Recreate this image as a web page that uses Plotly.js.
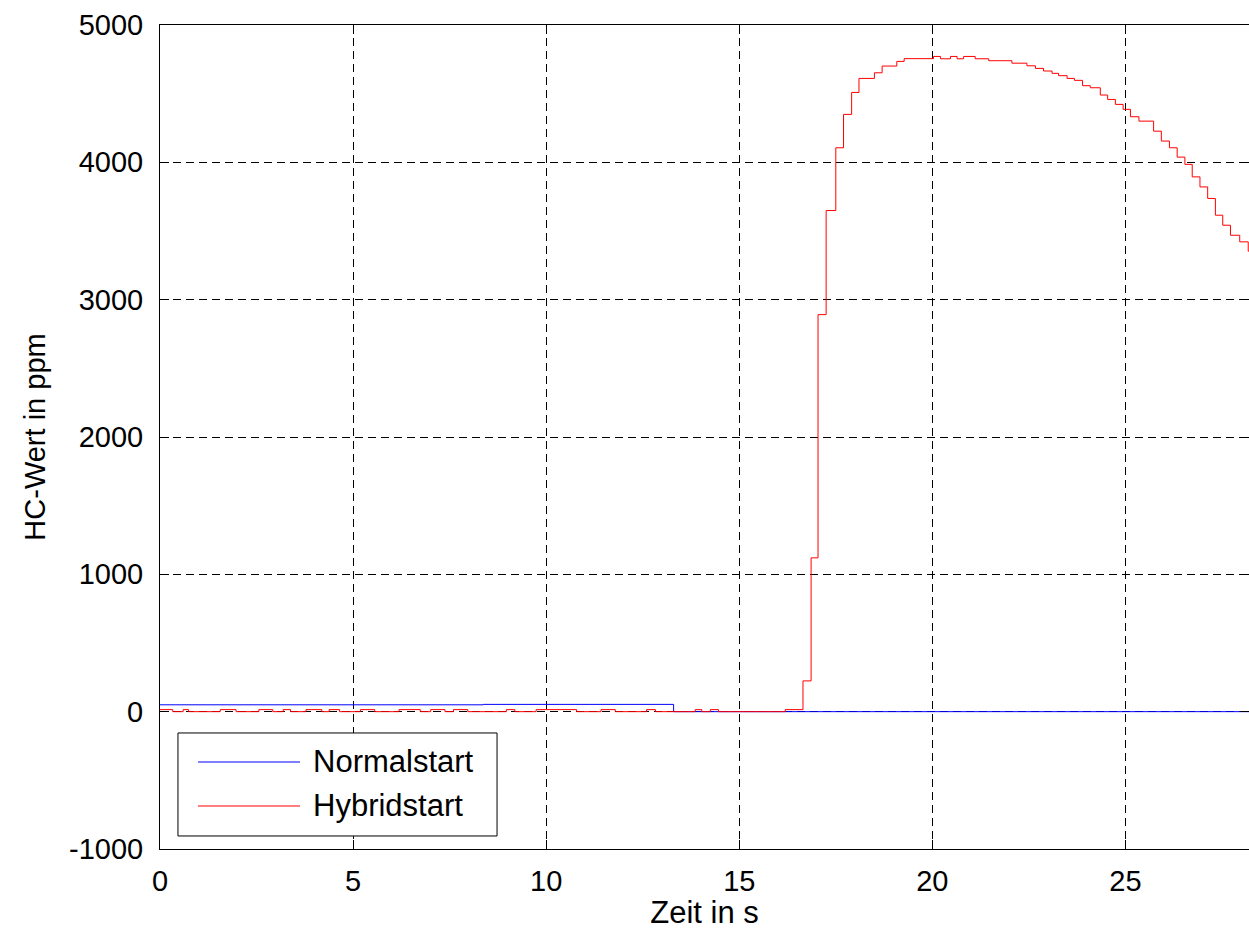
<!DOCTYPE html>
<html><head><meta charset="utf-8">
<script src="https://cdn.plot.ly/plotly-3.0.1.min.js"></script>
<style>html,body{margin:0;padding:0;background:#fff}#chart{width:1249px;height:930px}</style>
</head><body><div id="chart"></div>
<script>
const seriesNames = ["Normalstart", "Hybridstart"];
const seriesColors = ["#0000ff", "#ff0000"];

const normalTime  = [0, 8.37, 13.30, 28.2];
const normalValue = [50, 53, 0, 0];

const hybridTime = [0, 0.33, 0.60, 0.74, 1.56, 1.97, 2.56, 2.92, 3.19, 3.38, 3.78, 4.19, 4.38, 4.65,
  5.19, 5.56, 6.19, 6.74, 7.01, 7.38, 7.60, 7.97, 8.97, 9.19, 9.74, 10.79, 11.42, 11.79, 12.60, 12.83,
  13.86, 14.03, 14.25, 14.46, 16.19, 16.65, 16.86, 17.04, 17.25, 17.50, 17.70, 17.91, 18.10, 18.50,
  18.70, 19.08, 19.27, 20.03, 20.21, 20.47, 20.64, 20.81, 21.11, 21.46, 22.06, 22.45, 22.67, 22.88,
  23.10, 23.27, 23.49, 23.68, 23.89, 24.09, 24.35, 24.54, 24.74, 24.94, 25.13, 25.35, 25.73, 25.93,
  26.14, 26.34, 26.54, 26.73, 26.93, 27.13, 27.33, 27.52, 27.72, 27.96, 28.18, 28.2];
const hybridValue = [15, 0, 15, 0, 15, 0, 15, 0, 15, 0, 15, 0, 15, 0,
  15, 0, 15, 0, 15, 0, 15, 0, 15, 0, 15, 0, 15, 0, 15, 0,
  15, 0, 15, 0, 15, 224, 1120, 2891, 3649, 4106, 4349, 4509, 4611, 4652,
  4701, 4735, 4755, 4771, 4754, 4771, 4754, 4771, 4754, 4740, 4722, 4703, 4684, 4665,
  4648, 4631, 4611, 4597, 4558, 4543, 4490, 4458, 4422, 4386, 4332, 4300, 4227, 4155,
  4106, 4038, 3985, 3894, 3821, 3737, 3615, 3542, 3469, 3421, 3353, 3353];

const xTicks = [0, 5, 10, 15, 20, 25];
const xTickLabels = ["0", "5", "10", "15", "20", "25"];
const yTicks = [-1000, 0, 1000, 2000, 3000, 4000, 5000];
const yTickLabels = ["-1000", "0", "1000", "2000", "3000", "4000", "5000"];
const xTitle = "Zeit in s";
const yTitle = "HC-Wert in ppm";

const FONT = "Liberation Sans, Arial, Helvetica, sans-serif";

const traces = [
  {x: normalTime, y: normalValue, name: seriesNames[0], type: "scatter", mode: "lines",
   line: {color: seriesColors[0], width: 1, shape: "hv"}, showlegend: false},
  {x: hybridTime, y: hybridValue, name: seriesNames[1], type: "scatter", mode: "lines",
   line: {color: seriesColors[1], width: 1, shape: "hv"}, showlegend: false}
];

// manual legend (box, sample lines, labels) in plot-area paper coordinates
const legX0 = 0.0165, legX1 = 0.3095, legY0 = 0.0158, legY1 = 0.1408;
const legRowsY = [0.1056, 0.0522];
const shapes = [
  {type: "rect", xref: "paper", yref: "paper", x0: legX0, x1: legX1, y0: legY0, y1: legY1,
   line: {color: "#000", width: 1}, fillcolor: "#fff", layer: "above"}
];
const annotations = [];
seriesNames.forEach((n, i) => {
  shapes.push({type: "line", xref: "paper", yref: "paper", x0: 0.0349, x1: 0.1286,
    y0: legRowsY[i], y1: legRowsY[i], line: {color: seriesColors[i], width: 1}, layer: "above"});
  annotations.push({xref: "paper", yref: "paper", x: 0.1387, y: legRowsY[i], xanchor: "left",
    yanchor: "middle", text: n, showarrow: false, font: {family: FONT, size: 31, color: "#000"}});
});

const axisCommon = {
  ticks: "inside", ticklen: 9, tickcolor: "#000", tickwidth: 1,
  showline: true, linecolor: "#000", linewidth: 1, mirror: "ticks",
  showgrid: true, gridcolor: "#000", gridwidth: 1, griddash: "8px,5px",
  zeroline: false, tickfont: {family: FONT, size: 29, color: "#000"}, automargin: false
};

const layout = {
  width: 1249, height: 930,
  margin: {l: 160, r: 0, t: 25, b: 81},
  paper_bgcolor: "#fff", plot_bgcolor: "#fff",
  font: {family: FONT, color: "#000"},
  showlegend: false,
  xaxis: Object.assign({}, axisCommon, {range: [0, 28.2], tickmode: "array", tickvals: xTicks,
    ticktext: xTickLabels, ticklabelstandoff: 6,
    title: {text: xTitle, font: {family: FONT, size: 31, color: "#000"}, standoff: 4}}),
  yaxis: Object.assign({}, axisCommon, {range: [-1000, 5000], tickmode: "array", tickvals: yTicks,
    ticktext: yTickLabels, ticklabelstandoff: 10,
    title: {text: yTitle, font: {family: FONT, size: 29, color: "#000"}, standoff: 14}}),
  shapes: shapes,
  annotations: annotations
};

Plotly.newPlot("chart", traces, layout, {staticPlot: true, displayModeBar: false});
</script>
</body></html>
